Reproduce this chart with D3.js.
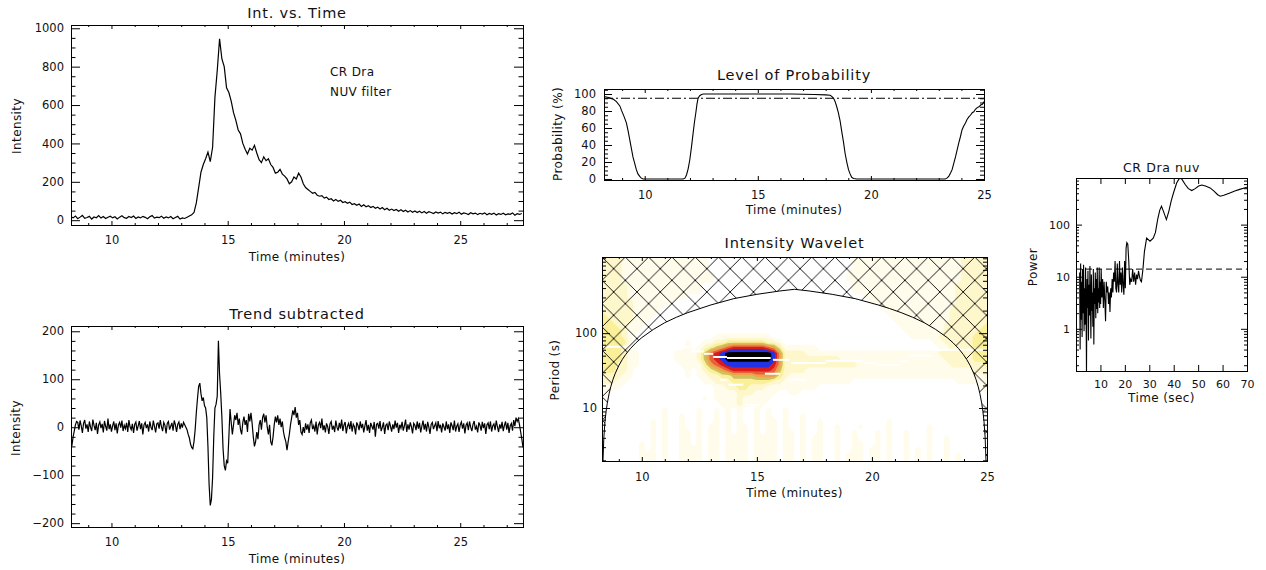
<!DOCTYPE html>
<html>
<head>
<meta charset="utf-8">
<script src="https://cdn.jsdelivr.net/npm/d3@7"></script>
<style>
body { margin: 0; background: #fff; }
svg text { font-family: "DejaVu Sans", sans-serif; fill: #111; }
.tick text { font-size: 11.5px; }
.small .tick text { font-size: 11px; }
.ttl { font-size: 14.5px; letter-spacing: 0.8px; }
.lab { font-size: 12px; letter-spacing: 0.4px; }
</style>
</head>
<body>
<svg id="chart" width="1266" height="570"></svg>
<script>
// ---- data ----
// light curve (minutes from 8.25, step 0.1)
var intStart = 8.25, intStep = 0.1;
var intensity = [18,12,22,8,16,25,10,14,20,6,
17,13,24,11,19,9,15,21,12,18,
7,16,23,13,10,19,14,22,9,17,
12,20,15,8,18,24,11,16,13,21,
10,17,12,19,8,14,20,6,12,9,
15,22,28,40,90,170,250,290,320,355,
305,380,640,780,945,840,800,690,665,620,
560,520,470,450,400,370,345,375,365,390,
350,315,300,330,310,320,290,275,245,250,
265,240,230,215,190,200,225,215,245,225,
190,170,160,150,140,145,130,125,128,115,
120,108,112,100,108,98,104,92,96,88,
94,82,86,78,84,72,80,70,76,66,
72,62,68,58,66,55,62,52,58,50,
56,47,54,45,52,43,50,41,48,40,
47,38,45,36,44,40,35,43,37,42,
33,41,36,40,32,39,34,42,31,38,
35,30,39,33,37,29,36,32,38,28,
35,31,37,27,34,30,36,28,33,31,
38,26,34,30,35];

// trend subtracted (minutes from 8.25, step 0.05)
var detStart = 8.25, detStep = 0.05;
var detrended = [-45,-38,-20,-8,5,12,
10,-5,14,3,-12,8,15,-3,6,-10,
12,0,-8,16,4,-6,9,-14,5,11,
-2,7,-11,13,2,-7,18,-4,6,-9,
3,12,-6,8,-13,5,10,-1,14,-8,
4,-3,9,-10,15,1,-5,7,-12,6,
11,-7,3,13,-4,8,-15,5,10,-2,
6,-9,12,0,-6,14,2,-11,7,9,
-3,15,1,-8,10,4,-13,8,12,-5,
2,9,-7,14,5,-10,6,11,-4,8,
-1,10,
5,0,-5,-15,-22,-35,-42,-45,-30,-5,
30,60,85,92,70,55,62,45,40,20,
-40,-120,-163,-150,-105,-20,40,48,65,180,
110,70,20,-45,-80,-90,-70,-75,-20,38,
10,-15,5,25,15,30,5,18,-5,-15,
10,22,5,15,-10,28,12,30,8,-20,
-40,-30,-10,-25,5,15,-5,20,28,10,
25,0,-15,5,-30,-38,-20,5,22,10,
25,5,18,0,12,-10,-22,-30,-48,-30,
-15,5,20,35,25,42,20,30,5,15,
-10,-15,0,-12,8,-5,
6,-12,9,15,-4,3,-9,12,-15,5,
10,-2,18,-6,4,-11,8,1,-14,7,
12,-5,3,-10,14,0,-7,9,-3,16,
-8,5,11,-13,2,8,-4,13,-9,6,
1,-15,10,4,-6,12,-2,7,-11,3,
15,-7,5,-12,9,2,-5,11,-20,6,
8,-3,13,-8,0,10,-14,4,7,-6,
12,2,-9,6,-4,14,-1,9,-12,5,
-2,11,-7,3,16,-10,6,-5,10,1,
-13,8,4,-6,12,-3,9,-11,2,14,
-5,7,-9,11,0,-14,6,10,-4,3,
9,-8,13,-2,5,-11,8,1,-7,12,
-4,6,-12,10,3,-6,14,-9,2,7,
-10,5,11,-3,8,-13,4,9,-6,12,
0,-8,6,13,-5,2,-11,10,4,-7,
11,-2,8,-14,5,9,-4,12,-9,3,
7,-6,14,1,-10,6,-3,11,-8,4,
12,-5,9,-12,3,8,-7,15,2,20,
12,18,5,-10,-25,-42];

// probability level
var probTime = [8.2,8.4,8.6,8.75,8.9,8.97,9.08,9.19,9.27,9.34,9.41,9.48,9.56,9.63,9.7,9.78,9.85,9.93,
11.7,11.78,11.85,11.92,11.99,12.07,12.14,12.2,12.26,12.31,12.36,12.43,12.51,12.6,16.5,17.5,18.0,18.2,
18.28,18.35,18.42,18.49,18.56,18.64,18.71,18.79,18.86,18.94,19.01,19.08,19.15,19.23,19.38,
23.29,23.36,23.44,23.52,23.59,23.66,23.74,23.81,23.88,23.96,24.03,24.1,24.18,24.25,24.33,24.4,
24.48,24.55,24.62,24.7,24.78,24.85,24.93,25.0];
var probValue = [97,96,94,91,86,81,74,66,56,46,36,26,18,11,6,3,1,0,
0,1,5,12,22,38,54,67,78,88,95,98,99.5,100,100,99.5,99,98.5,
97,95,91,85,78,68,56,43,30,19,11,6,2,0.5,0,
0,1,3,7,11,18,26,34,42,50,58,62,66,70,73,75,
78,79,82,84,85,87,88,91];
var probLevel = 95;

// wavelet power, levels 0-9; rows from 1024 s down to 2 s (quarter octaves), columns 8.25..25 min step 0.25
var waveT0 = 8.25, waveT1 = 25, wavePTop = 1024, wavePBottom = 2;
var waveRows = [
"22221111 11111111 11100000 00000000 00000000 00001111 11111111 11111112 2222",
"22221111 11111111 11100000 00000000 00000000 00001111 11111111 11111112 2222",
"22221111 11111111 11100000 00000000 00000000 00001111 11111111 11111112 2222",
"22221111 11111111 11110000 00000000 00000000 00011111 11111111 11111112 2222",
"22221111 11111111 11110000 00000000 00000000 00011111 11111111 11111112 2222",
"22222111 11111111 11000000 00000000 00000000 00001111 11111111 11111122 2222",
"22222111 11111111 11000000 00000000 00000000 00001111 11111111 11111122 2222",
"22222111 11111110 00000000 00000000 00000000 00000011 11111111 11111122 2222",
"22222211 11111000 00000000 00000000 00000000 00000001 11111111 11111122 2222",
"22222211 11100000 00000000 00000000 00000000 00000000 01111111 11111222 2222",
"32222211 11000000 00000000 00000000 00000000 00000000 00111111 11111222 2222",
"33222211 10000000 00000000 00000000 00000000 00000000 00011111 11111222 2222",
"33322111 00000000 00000000 00000000 00000000 00000000 00001111 11112222 2223",
"33332110 00000000 00000000 00000000 00000000 00000000 00000111 11112222 2233",
"33332100 00000000 00001111 11111100 00000000 00000000 00000011 11122222 2333",
"33333100 00000001 00112233 33333221 00000000 00000000 00000000 00112222 2333",
"33332100 00000001 01234567 77777653 11111100 00000000 00000000 00011222 2333",
"33332110 00000111 12467899 99999985 22221111 11111111 11111111 11122222 2333",
"33332110 00000111 12467899 99999985 22222222 22111111 11111111 11112222 2333",
"33322110 00000011 11356788 88888875 22222222 22222111 11111111 11111222 2223",
"33322100 00000001 01234567 77777764 22221111 11111111 11111111 11111111 1222",
"22221100 00000001 01122334 44455553 21111111 11111111 11111111 11111111 1112",
"22211000 00000000 00112223 33333322 11111111 11110000 00000000 00000011 1111",
"11110000 00000000 00001122 33222111 11111100 00000000 00000000 00000000 0011",
"11000000 00000000 00001111 22211110 01100000 00000000 00000000 00000000 0001",
"10000000 00000000 00101111 21111100 00000000 00000000 00000000 00000000 0000",
"00000000 00000000 00000111 21111000 00000000 00000000 00000000 00000000 0000",
"00000000 00010000 01001010 10010100 10000000 00000000 00000000 00000000 0000",
"00000000 00010010 01001010 10010100 10010000 00000000 00000000 00000000 0000",
"00000000 01010010 01001010 10010110 10010010 00000000 00100000 00000000 0000",
"00000000 01010010 01011010 11010110 10010010 01000100 00100000 01000000 0000",
"00000000 01010011 01011010 11010110 11010010 01001000 10100100 01000000 0000",
"00000000 01010011 01011011 11011110 11010110 01001000 10100100 01001000 0000",
"00000001 01010011 01011011 11011110 11010110 01001100 10100100 01001000 0000",
"00000001 01010011 11011011 11011110 11010110 01001101 10100101 01001000 0000",
"00000001 11010011 11011011 11011110 11010110 01011101 10100101 01001010 0000",
"00000001 11010011 11011011 11011110 11010110 01011101 10100101 01001010 0000"
];
var waveColors = ["#fffcec","#fff7cc","#faf09a","#cfc060","#f0a048","#e8603a","#d81c1c","#2233e6","#000000"];

// ridge (local maxima) segments: start min, end min, period s
var ridgeStart  = [8.3, 11.2, 12.1, 12.7, 13.1, 13.7, 15.7, 16.5, 18.0, 18.5, 19.7, 20.2, 21.2, 21.6, 22.6, 15.35, 16.43, 13.4, 13.76, 14.48, 17.66, 14.7];
var ridgeEnd    = [10.3, 12.1, 12.7, 13.1, 13.7, 15.6, 16.4, 18.0, 18.5, 19.6, 20.2, 21.2, 21.6, 22.6, 25.0, 16.0, 17.16, 13.7, 14.41, 15.13, 18.03, 14.9];
var ridgePeriod = [66, 65, 57, 53, 48, 46.4, 44, 39.8, 42.7, 42.7, 39.8, 37.8, 41.9, 50, 60, 28.7, 23.9, 23.9, 20.5, 11.1, 16.3, 10.3];

// cone of influence
var coiTime = [8.30,8.35,8.40,8.45,8.50,8.58,8.65,8.75,8.85,9.0,9.15,9.3,9.5,9.75,10.0,10.5,11.0,11.5,12.0,13.0,14.0,15.0,16.0,16.635,
17.27,18.27,19.27,20.27,20.77,21.27,21.77,22.27,22.77,23.27,23.52,23.77,23.97,24.12,24.27,24.42,24.52,24.62,24.69,24.77,24.82,24.87,24.92,24.97];
var coiPeriod = [1.5,4.0,6.6,9.1,11.6,15.6,19.2,24.2,29.2,36.8,44.4,51.9,62,74.6,87.2,112,138,163,188,238,289,330,366,385,
366,330,289,238,213,188,163,138,112,87.2,74.6,62,51.9,44.4,36.8,29.2,24.2,19.2,15.6,11.6,9.1,6.6,4.0,1.5];

// power spectrum
var specPeriod = [1.5,1.7,1.9,2.1,2.3,2.5,2.7,2.9,3.1,3.3,3.5,3.7,3.9,4.1,4.3,4.5,4.7,4.9,5.1,5.3,
5.5,5.7,5.9,6.1,6.3,6.5,6.7,6.9,7.1,7.3,7.5,7.7,7.9,8.1,8.3,8.5,8.7,8.9,9.1,9.3,9.5,9.7,9.9,10.1,
10.3,10.6,10.9,11.2,11.5,11.8,12.1,12.4,12.7,13.0,13.3,13.6,13.9,14.2,14.5,14.8,15.1,15.4,15.7,16.0,
16.3,16.6,16.9,17.2,17.5,17.8,18.1,18.4,18.7,19.0,19.3,19.6,19.9,20.2,20.5,20.8,21.2,21.6,22.0,22.4,
22.8,23.2,23.6,24.0,24.4,24.8,25.2,25.6,26.0,26.4,26.8,27.4,28.0,
28.9,30.3,31.6,32.5,33.5,34.3,35.0,35.8,37.0,38.0,39.0,39.9,41.2,42.0,42.6,43.4,44.7,46.0,47.4,48.8,
50.2,51.5,53.0,54.9,56.5,58.0,59.0,60.5,63.0,65.0,67.0,70.0];
var specPower = [12,0.4,18,1.5,8,0.7,14,2,17,0.9,6,1.2,15,3,0.15,9,2.5,13,0.6,7,
1.8,16,3.5,0.65,11,2.2,5,1.1,14,0.5,6,3,12,1.6,9,2.4,15,2,6,3.2,15,2.5,8,3,
14,4,9,2.5,8,3.5,1.4,8,5,6.5,3,5,2.1,6,4,9,5,12,8,20,
6,5,18,7,5,20,7,12,5,15,7,4.5,20,6,35,45,42,20,7,9,
8,14,8,12,7,11,9,13,10,8.5,8,14,30,
55,48,55,70,130,190,225,180,125,180,290,405,630,730,785,740,590,490,450,490,
550,575,550,507,440,375,351,365,405,440,475,522];
var specLevel = 14;

// ticks
var minTicks = [10, 15, 20, 25];
var minMinor = [9,11,12,13,14,16,17,18,19,21,22,23,24,26,27];
var minMinorShort = [9,11,12,13,14,16,17,18,19,21,22,23,24];
var intMajor = [0,200,400,600,800,1000];
var intMinor = [50,100,150,250,300,350,450,500,550,650,700,750,850,900,950];
var detMajor = [-200,-100,0,100,200];
var detMinor = [-180,-160,-140,-120,-80,-60,-40,-20,20,40,60,80,120,140,160,180];
var probMajor = [0,20,40,60,80,100];
var probMinor = [5,10,15,25,30,35,45,50,55,65,70,75,85,90,95,105];
var periodMajor = [10, 100];
var periodMinor = [2,3,4,5,6,7,8,9,20,30,40,50,60,70,80,90,200,300,400,500,600,700,800,900,1000];
var secMajor = [10,20,30,40,50,60,70];
var powerMajor = [1, 10, 100];
var powerMinor = [0.2,0.3,0.4,0.5,0.6,0.7,0.8,0.9,2,3,4,5,6,7,8,9,20,30,40,50,60,70,80,90,200,300,400,500,600,700];

// ---- drawing ----
var svg = d3.select("#chart");
var defs = svg.append("defs");
var clipId = 0;

function clipFor(xs, ys) {
  var id = "clip" + (clipId++);
  defs.append("clipPath").attr("id", id).append("rect")
    .attr("x", xs.range()[0]).attr("y", ys.range()[1])
    .attr("width", xs.range()[1] - xs.range()[0]).attr("height", ys.range()[0] - ys.range()[1]);
  return "url(#" + id + ")";
}

function boxAxes(xs, ys, o) {
  var g = svg.append("g").attr("class", o.cls || "");
  var left = xs.range()[0], right = xs.range()[1], bottom = ys.range()[0], top = ys.range()[1];
  function add(axis, tx, ty) {
    var a = g.append("g").attr("transform", "translate(" + tx + "," + ty + ")").call(axis);
    a.select(".domain").remove();
    a.attr("font-family", null).attr("font-size", null);
  }
  add(d3.axisBottom(xs).tickValues(o.xMajor).tickSizeInner(-o.xLen).tickSizeOuter(0).tickPadding(o.xPad).tickFormat(d3.format("d")), 0, bottom);
  add(d3.axisTop(xs).tickValues(o.xMajor).tickSizeInner(-o.xLen).tickSizeOuter(0).tickFormat(""), 0, top);
  if (o.xMinor) {
    add(d3.axisBottom(xs).tickValues(o.xMinor).tickSizeInner(-o.xLen / 2).tickSizeOuter(0).tickFormat(""), 0, bottom);
    add(d3.axisTop(xs).tickValues(o.xMinor).tickSizeInner(-o.xLen / 2).tickSizeOuter(0).tickFormat(""), 0, top);
  }
  add(d3.axisLeft(ys).tickValues(o.yMajor).tickSizeInner(-o.yLen).tickSizeOuter(0).tickPadding(o.yPad).tickFormat(d3.format("d")), left, 0);
  add(d3.axisRight(ys).tickValues(o.yMajor).tickSizeInner(-o.yLen).tickSizeOuter(0).tickFormat(""), right, 0);
  if (o.yMinor) {
    add(d3.axisLeft(ys).tickValues(o.yMinor).tickSizeInner(-o.yLen / 2).tickSizeOuter(0).tickFormat(""), left, 0);
    add(d3.axisRight(ys).tickValues(o.yMinor).tickSizeInner(-o.yLen / 2).tickSizeOuter(0).tickFormat(""), right, 0);
  }
  g.append("rect").attr("x", left + 0.5).attr("y", top + 0.5)
    .attr("width", right - left).attr("height", bottom - top)
    .attr("fill", "none").attr("stroke", "#000");
}

function label(txt, x, y, cls, rot) {
  var t = svg.append("text").attr("class", cls).attr("text-anchor", "middle").text(txt);
  if (rot) t.attr("transform", "translate(" + x + "," + y + ") rotate(-90)");
  else t.attr("x", x).attr("y", y);
  return t;
}

// Panel 1: Int. vs. Time
var x1 = d3.scaleLinear().domain([8.26, 27.7]).range([71, 523]);
var y1 = d3.scaleLinear().domain([-25, 1017]).range([225, 25]);
svg.append("path").datum(intensity)
  .attr("clip-path", clipFor(x1, y1))
  .attr("fill", "none").attr("stroke", "#000").attr("stroke-width", 1.2)
  .attr("d", d3.line().x(function(d, i) { return x1(intStart + i * intStep); }).y(function(d) { return y1(d); }));
boxAxes(x1, y1, {xMajor: minTicks, xMinor: minMinor, yMajor: intMajor, yMinor: intMinor, xLen: 4, yLen: 9, xPad: 11, yPad: 7});
label("Int. vs. Time", 297, 18, "ttl");
label("Time (minutes)", 297, 261, "lab");
label("Intensity", 21, 126, "lab", true);
svg.append("text").attr("class", "lab").attr("x", 330).attr("y", 76).text("CR Dra");
svg.append("text").attr("class", "lab").attr("x", 330).attr("y", 96).text("NUV filter");

// Panel 2: Trend subtracted
var x2 = d3.scaleLinear().domain([8.26, 27.7]).range([71, 523]);
var y2 = d3.scaleLinear().domain([-208, 211]).range([527, 326]);
svg.append("path").datum(detrended)
  .attr("clip-path", clipFor(x2, y2))
  .attr("fill", "none").attr("stroke", "#000").attr("stroke-width", 1.2)
  .attr("d", d3.line().x(function(d, i) { return x2(detStart + i * detStep); }).y(function(d) { return y2(d); }));
boxAxes(x2, y2, {xMajor: minTicks, xMinor: minMinor, yMajor: detMajor, yMinor: detMinor, xLen: 4, yLen: 9, xPad: 11, yPad: 7});
label("Trend subtracted", 297, 319, "ttl");
label("Time (minutes)", 297, 563, "lab");
label("Intensity", 20, 428, "lab", true);

// Panel 3: Level of Probability
var x3 = d3.scaleLinear().domain([8.2, 25]).range([604, 984]);
var y3 = d3.scaleLinear().domain([-1.2, 105.9]).range([180, 89]);
var probClip = clipFor(x3, y3);
svg.append("line").attr("clip-path", probClip)
  .attr("x1", x3.range()[0]).attr("x2", x3.range()[1]).attr("y1", y3(probLevel)).attr("y2", y3(probLevel))
  .attr("stroke", "#000").attr("stroke-dasharray", "9,3,2,3");
svg.append("path").datum(d3.zip(probTime, probValue))
  .attr("clip-path", probClip)
  .attr("fill", "none").attr("stroke", "#000").attr("stroke-width", 1.1)
  .attr("d", d3.line().x(function(d) { return x3(d[0]); }).y(function(d) { return y3(d[1]); }));
boxAxes(x3, y3, {xMajor: minTicks, xMinor: minMinorShort, yMajor: probMajor, yMinor: probMinor, xLen: 4, yLen: 8, xPad: 11, yPad: 8});
label("Level of Probability", 794, 80, "ttl");
label("Time (minutes)", 794, 214, "lab");
label("Probability (%)", 562, 134, "lab", true);

// Panel 4: Intensity Wavelet
var x4 = d3.scaleLinear().domain([8.27, 25]).range([602, 987]);
var y4 = d3.scaleLog().domain([1.96, 1040]).range([461, 257]);
var waveClip = clipFor(x4, y4);
var nCol = 68, nRow = waveRows.length;
var waveValues = [];
waveRows.forEach(function(r) {
  var s = r.replace(/ /g, "");
  for (var j = 0; j < nCol; j++) waveValues.push(+(s[j] || 0));
});
var gx = d3.scaleLinear().domain([0.5, nCol - 0.5]).range([x4(waveT0), x4(waveT1)]);
var gy = d3.scaleLinear().domain([0.5, nRow - 0.5]).range([y4(wavePTop), y4(wavePBottom)]);
var gridPath = d3.geoPath(d3.geoTransform({point: function(x, y) { this.stream.point(gx(x), gy(y)); }}));
var waveG = svg.append("g").attr("clip-path", waveClip);
waveG.append("rect").attr("x", 602).attr("y", 257).attr("width", 385).attr("height", 204).attr("fill", "#fff");
var contours = d3.contours().size([nCol, nRow]).thresholds(d3.range(0.5, 9.5, 1))(waveValues);
waveG.selectAll("path.lev").data(contours).enter().append("path")
  .attr("class", "lev")
  .attr("d", gridPath)
  .attr("fill", function(d, i) { return waveColors[i]; });
waveG.selectAll("line.ridge").data(ridgePeriod).enter().append("line")
  .attr("class", "ridge")
  .attr("x1", function(d, i) { return x4(ridgeStart[i]); })
  .attr("x2", function(d, i) { return x4(ridgeEnd[i]); })
  .attr("y1", function(d) { return y4(d); })
  .attr("y2", function(d) { return y4(d); })
  .attr("stroke", "#fff").attr("stroke-width", 2);
// hatched area outside the cone of influence
var pat = defs.append("pattern").attr("id", "hatch").attr("patternUnits", "userSpaceOnUse")
  .attr("width", 23.3).attr("height", 23.3).attr("x", 602).attr("y", 257);
pat.append("path").attr("d", "M-2,-2L25.3,25.3M-2,25.3L25.3,-2").attr("stroke", "#000").attr("stroke-width", 0.9).attr("fill", "none");
var coiPts = coiTime.map(function(t, i) { return [x4(t), y4(coiPeriod[i])]; });
var hatchPts = [[x4.range()[0], 470]].concat(coiPts).concat([[x4.range()[1], 470], [x4.range()[1], y4.range()[1]], [x4.range()[0], y4.range()[1]]]);
waveG.append("path").attr("d", d3.line()(hatchPts) + "Z").attr("fill", "url(#hatch)");
waveG.append("path").attr("d", d3.line()(coiPts)).attr("fill", "none").attr("stroke", "#000").attr("stroke-width", 1);
boxAxes(x4, y4, {xMajor: minTicks, xMinor: minMinorShort, yMajor: periodMajor, yMinor: periodMinor, xLen: 4, yLen: 8, xPad: 12, yPad: 5});
label("Intensity Wavelet", 794.5, 248, "ttl");
label("Time (minutes)", 794.5, 497, "lab");
label("Period (s)", 559, 370, "lab", true);

// Panel 5: power spectrum
var x5 = d3.scaleLinear().domain([0, 70]).range([1076, 1247]);
var y5 = d3.scaleLog().domain([0.155, 785]).range([371, 178]);
var specClip = clipFor(x5, y5);
svg.append("line").attr("clip-path", specClip)
  .attr("x1", x5.range()[0]).attr("x2", x5.range()[1]).attr("y1", y5(specLevel)).attr("y2", y5(specLevel))
  .attr("stroke", "#000").attr("stroke-dasharray", "6,4");
svg.append("path").datum(d3.zip(specPeriod, specPower))
  .attr("clip-path", specClip)
  .attr("fill", "none").attr("stroke", "#000").attr("stroke-width", 1.1)
  .attr("d", d3.line().x(function(d) { return x5(d[0]); }).y(function(d) { return y5(d[1]); }));
boxAxes(x5, y5, {cls: "small", xMajor: secMajor, yMajor: powerMajor, yMinor: powerMinor, xLen: 6, yLen: 6, xPad: 9, yPad: 6});
svg.append("text").attr("class", "lab").attr("text-anchor", "middle").attr("x", 1161.5).attr("y", 172)
  .style("font-size", "12.5px").style("letter-spacing", "0.6px").text("CR Dra nuv");
label("Time (sec)", 1161.5, 402, "lab");
label("Power", 1037, 267, "lab", true);
</script>
</body>
</html>
